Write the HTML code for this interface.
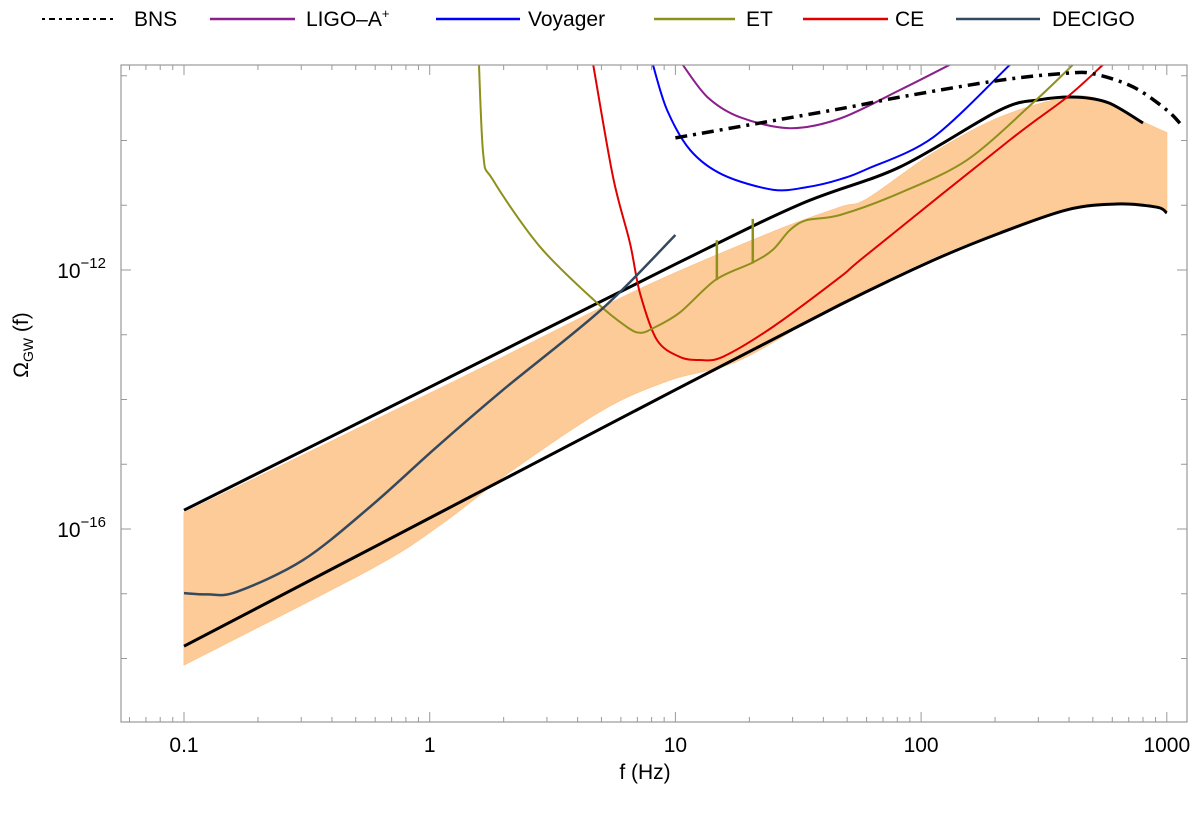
<!DOCTYPE html>
<html><head><meta charset="utf-8"><style>
html,body{margin:0;padding:0;background:#fff;}
svg{display:block;font-family:"Liberation Sans",sans-serif;}
</style></head><body>
<svg id="chart" width="1200" height="814" viewBox="0 0 1200 814">
<defs><clipPath id="plotclip"><rect x="121" y="65" width="1066" height="657"/></clipPath></defs>
<g id="legend"></g>
<g id="plot" clip-path="url(#plotclip)"></g>
<g id="axes"></g>
</svg>
<script>
// ---- data (frequency in Hz, log10 Omega_GW) ----
const bandUpperF = [0.1, 1.29, 7.18, 24.9, 46.8, 60.3, 112, 209, 393, 535, 728, 1000];
const bandUpperL = [-15.75, -13.70, -12.29, -11.41, -11.03, -10.90, -10.19, -9.64, -9.33, -9.37, -9.64, -9.88];
const bandLowerF = [0.1, 0.587, 1.13, 2.12, 5.07, 9.5, 18.3, 46.8, 112, 209, 393, 627, 912, 1000];
const bandLowerL = [-18.10, -16.60, -15.91, -15.12, -14.16, -13.70, -13.39, -12.51, -11.81, -11.40, -11.04, -10.95, -11.0, -11.09];
const upperF = [0.1, 1, 10, 32.4, 82, 209, 305, 430, 580, 800];
const upperL = [-15.71, -13.81, -11.91, -10.98, -10.41, -9.53, -9.37, -9.33, -9.42, -9.73];
const lowerF = [0.1, 1, 10, 46.6, 112, 209, 393, 627, 912, 1000];
const lowerL = [-17.81, -15.83, -13.85, -12.54, -11.85, -11.43, -11.07, -10.98, -11.03, -11.12];
const bnsF = [10, 46.8, 82, 209, 393, 502, 728, 1000, 1164];
const bnsL = [-9.96, -9.51, -9.33, -9.07, -8.96, -8.97, -9.17, -9.53, -9.79];
const ligoF = [10.7, 13.5, 18.3, 29.3, 46.8, 82, 131];
const ligoL = [-8.83, -9.33, -9.64, -9.81, -9.66, -9.22, -8.83];
const voyF = [8.1, 9.25, 11.5, 15.6, 24.9, 34.3, 46.8, 60.3, 112, 230];
const voyL = [-8.83, -9.53, -10.15, -10.53, -10.76, -10.72, -10.60, -10.44, -9.95, -8.83];
const etF = [1.57, 1.65, 1.81, 2.81, 4.8, 6.35, 7.18, 8.1, 10.4, 14.6, 20.5, 24.9, 29.3, 34.3, 46.8, 82, 154, 285, 415];
const etL = [-8.3, -10.19, -10.61, -11.64, -12.51, -12.88, -12.97, -12.90, -12.66, -12.15, -11.89, -11.69, -11.38, -11.23, -11.15, -10.81, -10.30, -9.42, -8.83];
const etSpikeF = [14.75, 20.65];
const etSpikeL = [-11.54, -11.21];
const ceF = [4.63, 5.57, 6.53, 7.18, 8.41, 10.4, 12.6, 15.6, 24.9, 46.8, 60.3, 230, 393, 550];
const ceL = [-8.83, -10.56, -11.58, -12.36, -13.08, -13.34, -13.39, -13.34, -12.88, -12.11, -11.76, -9.99, -9.33, -8.83];
const decF = [0.1, 0.125, 0.164, 0.305, 0.571, 1.07, 1.99, 5.07, 10];
const decL = [-16.99, -17.01, -16.97, -16.48, -15.66, -14.73, -13.85, -12.59, -11.46];
const xTickVals = [0.1, 1, 10, 100, 1000];
const xTickLabels = ["0.1", "1", "10", "100", "1000"];
const yTickExp = [-12, -16];
const yTickLabels = ["10", "10"];
const yTickSups = ["\u221212", "\u221216"];

// ---- axes ----
const X0 = 184, DX = 245.7, Y0 = 270, DY = 64.75;
function xs(f){ return X0 + (Math.log10(f) + 1) * DX; }
function ys(L){ return Y0 - (L + 12) * DY; }
const NS = "http://www.w3.org/2000/svg";
function mk(tag, attrs, parent){ const e = document.createElementNS(NS, tag); for (const k in attrs) e.setAttribute(k, attrs[k]); parent.appendChild(e); return e; }
const plot = document.getElementById('plot'), axes = document.getElementById('axes'), legend = document.getElementById('legend');
function smoothSeg(F, L, start){
  const p = F.map((f,i)=>[xs(f), ys(L[i])]);
  let d = start ? 'M'+p[0][0].toFixed(1)+','+p[0][1].toFixed(1) : 'L'+p[0][0].toFixed(1)+','+p[0][1].toFixed(1);
  for (let i=0;i<p.length-1;i++){
    const p0=p[Math.max(0,i-1)], p1=p[i], p2=p[i+1], p3=p[Math.min(p.length-1,i+2)];
    const t=0.16;
    const c1=[p1[0]+(p2[0]-p0[0])*t, p1[1]+(p2[1]-p0[1])*t];
    const c2=[p2[0]-(p3[0]-p1[0])*t, p2[1]-(p3[1]-p1[1])*t];
    d+='C'+c1[0].toFixed(1)+','+c1[1].toFixed(1)+' '+c2[0].toFixed(1)+','+c2[1].toFixed(1)+' '+p2[0].toFixed(1)+','+p2[1].toFixed(1);
  }
  return d;
}
function smoothD(F, L){ return smoothSeg(F, L, true); }
function interpL(F, L, f){
  const lf = Math.log10(f);
  for (let i=0;i<F.length-1;i++){
    const a=Math.log10(F[i]), b=Math.log10(F[i+1]);
    if (lf>=a && lf<=b) return L[i]+(L[i+1]-L[i])*(lf-a)/(b-a);
  }
  return L[L.length-1];
}

// band
const bandD = smoothSeg(bandUpperF, bandUpperL, true) + smoothSeg(bandLowerF.slice().reverse(), bandLowerL.slice().reverse(), false) + 'Z';
const band = mk('path', {d: bandD, fill:'#fdcb98', stroke:'#fdc690', 'stroke-width':1}, plot);



const series = [
  {F:upperF, L:upperL, c:'#000', w:3, n:'upper-bound-curve'},
  {F:lowerF, L:lowerL, c:'#000', w:3, n:'lower-bound-curve'},
  {F:ligoF, L:ligoL, c:'#8b1f8b', w:2, n:'ligo-aplus-curve'},
  {F:voyF, L:voyL, c:'#0000ff', w:2, n:'voyager-curve'},
  {F:ceF, L:ceL, c:'#e00000', w:2, n:'ce-curve'},
  {F:etF, L:etL, c:'#8f8f1c', w:2, n:'et-curve'},
  {F:decF, L:decL, c:'#34495e', w:2.5, n:'decigo-curve'},
  {F:bnsF, L:bnsL, c:'#000', w:3.5, n:'bns-curve', dash:'12 6 3 6'}
];
series.forEach(s=>{
  const a = {d: smoothD(s.F, s.L), fill:'none', stroke:s.c, 'stroke-width':s.w, 'stroke-linejoin':'round'};
  if (s.dash) a['stroke-dasharray'] = s.dash;
  const p = mk('path', a, plot);
  
  
});
etSpikeF.forEach((f,i)=>{
  const base = interpL(etF, etL, f);
  const l = mk('line', {x1:xs(f), y1:ys(base)+1, x2:xs(f), y2:ys(etSpikeL[i]), stroke:'#8f8f1c', 'stroke-width':2.5}, plot);
  
  
});

// frame
const frame = mk('rect', {x:121, y:65, width:1066, height:657, fill:'none', stroke:'#999', 'stroke-width':1.2}, axes);


for (let d=-2; d<=3; d++){
  for (let m=1; m<=9; m++){
    const f = m*Math.pow(10,d);
    const x = xs(f);
    if (x<122 || x>1186) continue;
    const len = m===1 ? 10 : 5;
    mk('line', {x1:x, y1:722, x2:x, y2:722-len, stroke:'#999', 'stroke-width':1}, axes);
    mk('line', {x1:x, y1:65, x2:x, y2:65+len, stroke:'#999', 'stroke-width':1}, axes);
  }
}
xTickVals.forEach((v,i)=>{
  const t = mk('text', {x:xs(v), y:752, 'text-anchor':'middle', 'font-size':21, fill:'#000'}, axes);
  t.textContent = xTickLabels[i];
  
  
});
for (let L=-19; L<=-8; L++){
  const y = ys(L);
  if (y<66 || y>721) continue;
  const len = (L===-12||L===-16) ? 10 : 6;
  mk('line', {x1:121, y1:y, x2:121+len, y2:y, stroke:'#999', 'stroke-width':1}, axes);
  mk('line', {x1:1187, y1:y, x2:1187-len, y2:y, stroke:'#999', 'stroke-width':1}, axes);
}
yTickExp.forEach((e,i)=>{
  const t = mk('text', {x:106, y:ys(e)+8, 'text-anchor':'end', 'font-size':21, fill:'#000'}, axes);
  t.textContent = yTickLabels[i];
  const s = mk('tspan', {dy:-10, 'font-size':15}, t);
  s.textContent = yTickSups[i];
  
  
});
const xt = mk('text', {x:645, y:779, 'text-anchor':'middle', 'font-size':21, fill:'#000'}, axes);
xt.textContent = 'f (Hz)';


const yt = mk('text', {x:0, y:0, 'text-anchor':'middle', 'font-size':21, fill:'#000', transform:'translate(28,345) rotate(-90)'}, axes);
yt.textContent = 'Ω';
const ysb = mk('tspan', {'font-size':14, dy:5}, yt); ysb.textContent = 'GW';
const yrest = mk('tspan', {dy:-5}, yt); yrest.textContent = ' (f)';



// legend
const legItems = [
  {x1:42, x2:115, tx:134, c:'#000', w:2, dash:'3 4 6 4', label:'BNS', n:'legend-bns'},
  {x1:210, x2:295, tx:306, c:'#8b1f8b', w:2.5, label:'LIGO–A', sup:'+', n:'legend-ligo-aplus'},
  {x1:436, x2:520, tx:528, c:'#0000ff', w:2.5, label:'Voyager', n:'legend-voyager'},
  {x1:654, x2:735, tx:746, c:'#8f8f1c', w:2.5, label:'ET', n:'legend-et'},
  {x1:803, x2:888, tx:895, c:'#e00000', w:2.5, label:'CE', n:'legend-ce'},
  {x1:956, x2:1040, tx:1052, c:'#34495e', w:2.5, label:'DECIGO', n:'legend-decigo'}
];
legItems.forEach(it=>{
  const g = mk('g', {}, legend);
  
  
  const a = {x1:it.x1, y1:19, x2:it.x2, y2:19, stroke:it.c, 'stroke-width':it.w};
  if (it.dash) a['stroke-dasharray'] = it.dash;
  mk('line', a, g);
  const t = mk('text', {x:it.tx, y:26, 'font-size':21, fill:'#000'}, g);
  t.textContent = it.label;
  if (it.sup){ const s = mk('tspan', {dy:-8, 'font-size':13}, t); s.textContent = it.sup; }
});
</script>
</body></html>
